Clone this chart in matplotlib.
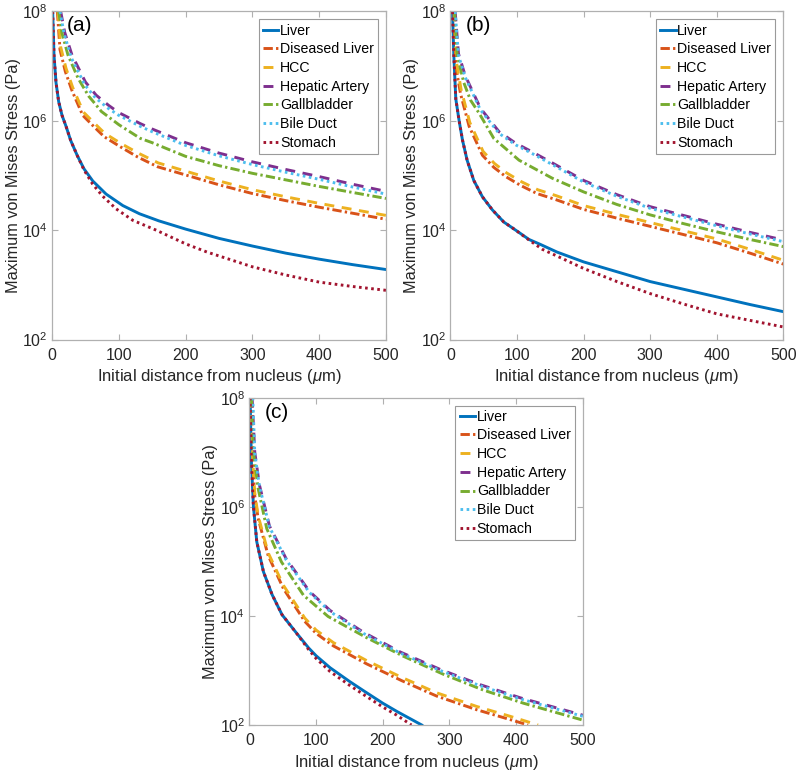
import numpy as np
import matplotlib
matplotlib.use("Agg")
import matplotlib.pyplot as plt
from matplotlib.ticker import FixedLocator, FuncFormatter

plt.rcParams['font.family'] = ['Liberation Sans', 'DejaVu Sans']
plt.rcParams['mathtext.fontset'] = 'custom'
plt.rcParams['mathtext.rm'] = 'Liberation Sans'
plt.rcParams['mathtext.it'] = 'Liberation Sans:italic'

series_names = ["Liver", "Diseased Liver", "HCC", "Hepatic Artery", "Gallbladder", "Bile Duct", "Stomach"]
panel_labels = ["(a)", "(b)", "(c)"]
x_ticks = [0, 100, 200, 300, 400, 500]
y_tick_exponents = [2, 4, 6, 8]

# ---------------- Panel (a): x in um, y as log10(stress in Pa) ----------------
a_liver_x = [1, 3, 6, 10, 15, 21, 28, 38, 48, 61, 81, 106, 131, 160, 200, 250, 300, 350, 400, 450, 500]
a_liver_y = [8, 7.2, 6.7, 6.35, 6.1, 5.9, 5.64, 5.36, 5.12, 4.9, 4.66, 4.45, 4.3, 4.17, 4.02, 3.85, 3.71, 3.58, 3.47, 3.37, 3.28]
a_dis_x = [8, 12, 20, 30, 46, 63, 78, 103, 128, 158, 200, 250, 300, 350, 400, 450, 500]
a_dis_y = [8, 7.3, 6.9, 6.55, 6.1, 5.89, 5.71, 5.52, 5.34, 5.16, 5.01, 4.83, 4.67, 4.54, 4.42, 4.31, 4.2]
a_hcc_x = [9, 13, 21, 31, 47, 64, 79, 104, 129, 159, 200, 250, 300, 350, 400, 450, 500]
a_hcc_y = [8, 7.35, 6.96, 6.61, 6.16, 5.95, 5.77, 5.58, 5.41, 5.23, 5.08, 4.9, 4.74, 4.61, 4.49, 4.38, 4.27]
a_hep_x = [13, 19, 30, 50, 66, 85, 100, 132, 150, 200, 250, 300, 350, 400, 450, 500]
a_hep_y = [8, 7.62, 7.2, 6.71, 6.47, 6.28, 6.15, 5.95, 5.85, 5.6, 5.41, 5.25, 5.11, 4.98, 4.84, 4.71]
a_gall_x = [10, 15, 24, 39, 55, 66, 74, 100, 132, 150, 200, 250, 300, 350, 400, 450, 500]
a_gall_y = [8, 7.6, 7.2, 6.78, 6.45, 6.29, 6.17, 5.93, 5.68, 5.6, 5.35, 5.18, 5.04, 4.92, 4.8, 4.69, 4.58]
a_bile_x = [12, 18, 29, 49, 65, 84, 100, 132, 150, 200, 250, 300, 350, 400, 450, 500]
a_bile_y = [8, 7.6, 7.15, 6.66, 6.42, 6.23, 6.1, 5.9, 5.8, 5.55, 5.36, 5.2, 5.06, 4.93, 4.79, 4.66]
a_stom_x = [1, 3, 6, 10, 15, 21, 28, 38, 48, 61, 76, 96, 121, 156, 200, 232, 300, 350, 400, 450, 500]
a_stom_y = [8, 7.2, 6.7, 6.35, 6.1, 5.9, 5.64, 5.36, 5.1, 4.84, 4.62, 4.39, 4.18, 4.0, 3.75, 3.6, 3.33, 3.18, 3.05, 2.97, 2.9]

# ---------------- Panel (b) ----------------
b_liver_x = [3, 5, 8, 13, 18, 25, 35, 48, 63, 80, 98, 118, 135, 160, 200, 250, 300, 350, 400, 450, 500]
b_liver_y = [8, 7.2, 6.4, 6.0, 5.65, 5.28, 4.91, 4.61, 4.37, 4.15, 4.0, 3.83, 3.74, 3.6, 3.42, 3.24, 3.06, 2.92, 2.78, 2.64, 2.51]
b_dis_x = [5, 8, 15, 28, 48, 65, 83, 105, 130, 158, 200, 250, 300, 350, 400, 450, 500]
b_dis_y = [8, 7.0, 6.5, 5.9, 5.37, 5.15, 4.98, 4.82, 4.67, 4.56, 4.38, 4.22, 4.07, 3.92, 3.77, 3.58, 3.38]
b_hcc_x = [6, 9, 16, 29, 49, 66, 84, 106, 131, 159, 200, 250, 300, 350, 400, 450, 500]
b_hcc_y = [8, 7.07, 6.57, 5.97, 5.44, 5.22, 5.05, 4.89, 4.74, 4.63, 4.45, 4.29, 4.14, 3.99, 3.84, 3.65, 3.45]
b_hep_x = [7, 12, 22, 45, 73, 98, 123, 153, 200, 250, 300, 350, 400, 450, 500]
b_hep_y = [8, 7.23, 6.83, 6.23, 5.8, 5.59, 5.43, 5.23, 4.91, 4.65, 4.43, 4.27, 4.11, 3.96, 3.82]
b_gall_x = [6, 10, 20, 30, 43, 65, 103, 153, 200, 250, 300, 350, 400, 450, 500]
b_gall_y = [8, 7.2, 6.7, 6.38, 6.14, 5.68, 5.28, 4.95, 4.7, 4.47, 4.28, 4.12, 3.97, 3.83, 3.7]
b_bile_x = [7, 12, 22, 45, 73, 98, 123, 153, 200, 250, 300, 350, 400, 450, 500]
b_bile_y = [8, 7.2, 6.8, 6.2, 5.77, 5.56, 5.4, 5.2, 4.88, 4.62, 4.4, 4.24, 4.08, 3.93, 3.79]
b_stom_x = [3, 5, 8, 13, 18, 25, 35, 48, 63, 80, 98, 118, 138, 163, 200, 250, 300, 350, 400, 450, 500]
b_stom_y = [8, 7.2, 6.4, 6.0, 5.65, 5.28, 4.91, 4.61, 4.37, 4.15, 4.0, 3.82, 3.65, 3.51, 3.3, 3.06, 2.84, 2.65, 2.47, 2.35, 2.23]

# ---------------- Panel (c) ----------------
c_liver_x = [1, 3, 6, 11, 21, 34, 49, 69, 89, 100, 121, 150, 171, 200, 221, 258.5]
c_liver_y = [8, 6.8, 6.0, 5.36, 4.81, 4.39, 4.02, 3.71, 3.41, 3.27, 3.05, 2.8, 2.63, 2.4, 2.25, 2.0]
c_dis_x = [3, 5, 8, 13, 28, 51, 83, 100, 126, 176, 229, 281, 341, 391, 418]
c_dis_y = [8, 6.8, 6.2, 5.79, 5.11, 4.5, 3.9, 3.68, 3.45, 3.12, 2.81, 2.53, 2.28, 2.1, 2.0]
c_hcc_x = [3, 5, 8, 13, 28, 51, 83, 100, 126, 176, 229, 281, 341, 391, 433]
c_hcc_y = [8, 6.85, 6.25, 5.84, 5.16, 4.56, 3.96, 3.74, 3.51, 3.18, 2.87, 2.59, 2.34, 2.16, 2.0]
c_hep_x = [4, 8, 15, 30, 55, 90, 121, 171, 226, 286, 346, 406, 500]
c_hep_y = [8, 7.0, 6.4, 5.65, 5.05, 4.45, 4.1, 3.7, 3.34, 3.02, 2.74, 2.5, 2.18]
c_gall_x = [3, 6, 13, 26, 48, 81, 118, 176, 231, 291, 351, 411, 500]
c_gall_y = [8, 7.0, 6.34, 5.6, 4.99, 4.38, 3.99, 3.6, 3.26, 2.93, 2.64, 2.4, 2.09]
c_bile_x = [5, 8, 15, 30, 55, 90, 121, 171, 226, 286, 346, 406, 500]
c_bile_y = [8, 6.98, 6.38, 5.63, 5.03, 4.43, 4.08, 3.68, 3.32, 3.0, 2.72, 2.48, 2.16]
c_stom_x = [1, 3, 6, 11, 21, 34, 49, 69, 89, 100, 121, 150, 171, 200, 221, 243]
c_stom_y = [8, 6.8, 6.0, 5.36, 4.81, 4.39, 4.02, 3.71, 3.38, 3.22, 2.98, 2.73, 2.56, 2.33, 2.18, 2.0]

panels = [
    [(a_liver_x, a_liver_y), (a_dis_x, a_dis_y), (a_hcc_x, a_hcc_y), (a_hep_x, a_hep_y),
     (a_gall_x, a_gall_y), (a_bile_x, a_bile_y), (a_stom_x, a_stom_y)],
    [(b_liver_x, b_liver_y), (b_dis_x, b_dis_y), (b_hcc_x, b_hcc_y), (b_hep_x, b_hep_y),
     (b_gall_x, b_gall_y), (b_bile_x, b_bile_y), (b_stom_x, b_stom_y)],
    [(c_liver_x, c_liver_y), (c_dis_x, c_dis_y), (c_hcc_x, c_hcc_y), (c_hep_x, c_hep_y),
     (c_gall_x, c_gall_y), (c_bile_x, c_bile_y), (c_stom_x, c_stom_y)],
]

colors = ['#0072BD', '#D95319', '#EDB120', '#7E2F8E', '#77AC30', '#4DBEEE', '#A2142F']
dashed = (0, (3.4, 2.6))
dashdot = (0, (3.2, 1.1, 0.8, 1.1))
dotted = (0, (0.9, 1.2))
styles = ['-', dashdot, dashed, dashed, dashdot, dotted, dotted]

fig = plt.figure(figsize=(8, 7.75), dpi=100)
rects = [
    [0.065, 0.5619, 0.4175, 0.4233],
    [0.5631, 0.5619, 0.416, 0.4233],
    [0.3118, 0.0645, 0.4166, 0.4223],
]

axis_gray = '#b0b0b0'
text_col = '#262626'

for p, rect in enumerate(rects):
    ax = fig.add_axes(rect)
    ax.set_yscale('log')
    for i, (xs, ys) in enumerate(panels[p]):
        ax.plot(xs, np.power(10.0, ys), color=colors[i], linestyle=styles[i],
                linewidth=2.1, label=series_names[i], dash_capstyle='butt')
    ax.set_xlim(0, 500)
    ax.set_ylim(1e2, 1e8)
    ax.xaxis.set_major_locator(FixedLocator(x_ticks))
    ax.yaxis.set_major_locator(FixedLocator([10.0 ** e for e in y_tick_exponents]))
    ax.yaxis.set_minor_locator(FixedLocator([]))
    ax.yaxis.set_major_formatter(FuncFormatter(lambda v, pos: r'$10^{%d}$' % int(round(np.log10(v)))))
    ax.tick_params(axis='both', which='major', direction='in', length=4, width=0.8,
                   top=True, right=True, color=axis_gray, labelcolor=text_col, labelsize=11.5)
    ax.tick_params(axis='x', pad=6)
    ax.tick_params(axis='y', pad=3)
    for s in ax.spines.values():
        s.set_color(axis_gray)
        s.set_linewidth(0.9)
    ax.set_xlabel(r'Initial distance from nucleus ($\mu$m)', fontsize=12, color=text_col, labelpad=3)
    ax.set_ylabel('Maximum von Mises Stress (Pa)', fontsize=11.7, color=text_col, labelpad=1)
    ax.text(0.045, 0.985, panel_labels[p], transform=ax.transAxes, fontsize=15,
            color='black', va='top', ha='left')
    leg = ax.legend(loc='upper right', fontsize=10.2, handlelength=1.1, handletextpad=0.12,
                    labelspacing=0.33, borderpad=0.3, borderaxespad=0.55, fancybox=False,
                    framealpha=1.0, edgecolor='#9a9a9a')
    leg.get_frame().set_linewidth(0.8)

fig.savefig('out.png', dpi=100)
